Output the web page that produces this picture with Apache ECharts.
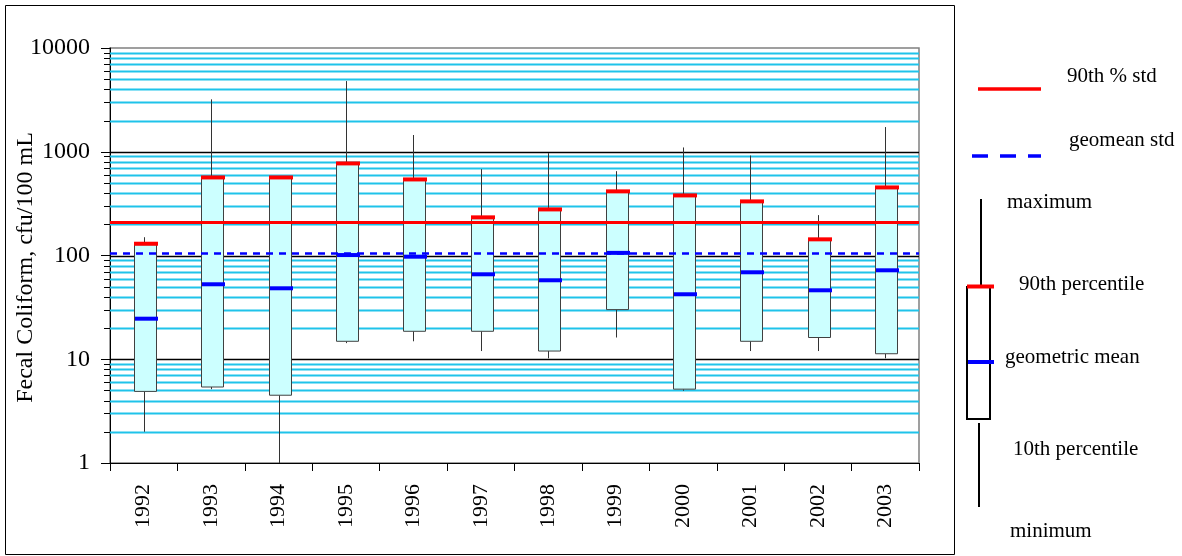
<!DOCTYPE html>
<html>
<head>
<meta charset="utf-8">
<title>Fecal Coliform 1992-2003</title>
<script src="https://cdn.jsdelivr.net/npm/echarts@6/dist/echarts.min.js"></script>
<style>
  html, body { margin: 0; padding: 0; background: #ffffff; }
  #chart { width: 1182px; height: 556px; }
</style>
</head>
<body>
<div id="chart"></div>
<script>
// Annual fecal coliform statistics (cfu/100 mL)
const years = ['1992', '1993', '1994', '1995', '1996', '1997', '1998', '1999', '2000', '2001', '2002', '2003'];
const maxVals = [150, 3200, 553, 4800, 1450, 680, 970, 650, 1100, 920, 245, 1730];
const p90Vals = [127, 553, 553, 755, 529, 228, 272, 406, 371, 325, 140, 443];
const gmeanVals = [24.6, 52.8, 48.3, 101, 97.4, 65.9, 57.7, 106, 42.3, 68.9, 46.2, 72];
const p10Vals = [4.9, 5.4, 4.5, 14.9, 18.6, 18.6, 12.0, 30.1, 5.15, 14.9, 16.2, 11.3];
const minVals = [2.0, 5.15, 1.0, 14.3, 14.9, 12.0, 10.2, 16.2, 4.97, 12.0, 12.0, 10.2];

// Water quality standards
const std90th = 208;
const stdGeomean = 104;

// Log axis decades and the 2..9 multiples between them
const decades = [1, 10, 100, 1000, 10000];
const minorSteps = [2, 3, 4, 5, 6, 7, 8, 9];

const FONT = '"Liberation Serif", "Times New Roman", serif';

const minorGrid = [];
decades.slice(0, -1).forEach(d => minorSteps.forEach(m => minorGrid.push(m * d)));

const boxData = years.map((y, i) => [y, maxVals[i], p90Vals[i], gmeanVals[i], p10Vals[i], minVals[i]]);

const chart = echarts.init(document.getElementById('chart'), null, { renderer: 'canvas' });

function renderGrid(params, api) {
  const cs = params.coordSys;
  const v = api.value(1);
  const y = Math.round(api.coord([0, v])[1]) + 0.5;
  const major = api.value(2) === 1;
  const children = [{
    type: 'line',
    shape: { x1: cs.x, y1: y, x2: cs.x + cs.width, y2: y },
    style: { stroke: major ? '#000000' : '#1fc3ea', lineWidth: major ? 1.6 : 2 }
  }];
  if (!major) {
    children.push({
      type: 'line',
      shape: { x1: cs.x - 6, y1: y, x2: cs.x, y2: y },
      style: { stroke: '#000000', lineWidth: 1 }
    });
  }
  return { type: 'group', children };
}

function renderBox(params, api) {
  const cat = api.value(0);
  const cx = Math.round(api.coord([cat, 1])[0]) + 0.5;
  const yMax = api.coord([cat, api.value(1)])[1];
  const y90 = api.coord([cat, api.value(2)])[1];
  const yGm = api.coord([cat, api.value(3)])[1];
  const y10 = api.coord([cat, api.value(4)])[1];
  const yMin = api.coord([cat, api.value(5)])[1];
  const bw = 22;
  const x0 = Math.round(cx - bw / 2);
  const children = [];
  if (yMax < y90 - 0.5) {
    children.push({ type: 'line', shape: { x1: cx, y1: yMax, x2: cx, y2: y90 },
      style: { stroke: '#333333', lineWidth: 1 } });
  }
  if (yMin > y10 + 0.5) {
    children.push({ type: 'line', shape: { x1: cx, y1: y10, x2: cx, y2: yMin },
      style: { stroke: '#333333', lineWidth: 1 } });
  }
  children.push({ type: 'rect', shape: { x: x0 + 0.5, y: y90, width: bw, height: y10 - y90 },
    style: { fill: '#ccffff', stroke: '#404040', lineWidth: 1 } });
  children.push({ type: 'rect', shape: { x: x0, y: y90 - 3, width: bw + 2, height: 4 },
    style: { fill: '#ff0000' } });
  children.push({ type: 'rect', shape: { x: x0 + 1, y: yGm - 2, width: bw + 1, height: 4 },
    style: { fill: '#0000ff' } });
  return { type: 'group', children };
}

const gridItems = [];
minorGrid.forEach(v => gridItems.push([years[0], v, 0]));
[10, 100, 1000].forEach(v => gridItems.push([years[0], v, 1]));

const txt = (x, y, s) => ({
  type: 'text', left: x, top: y - 11,
  style: { text: s, fill: '#000000', font: '21px ' + FONT }
});

const option = {
  animation: false,
  backgroundColor: '#ffffff',
  grid: {
    left: 110, right: 263, top: 48, bottom: 93,
    outerBoundsMode: 'none',
    containLabel: false,
    show: true, borderColor: '#808080', borderWidth: 1.5, backgroundColor: 'transparent'
  },
  xAxis: {
    type: 'category',
    data: years,
    boundaryGap: true,
    axisLine: { show: true, lineStyle: { color: '#000000', width: 1 } },
    axisTick: { show: true, length: 8, lineStyle: { color: '#000000' } },
    axisLabel: { rotate: 90, margin: 21, color: '#000000', fontFamily: FONT, fontSize: 22 },
    splitLine: { show: false }
  },
  yAxis: {
    type: 'log',
    logBase: 10,
    min: 1,
    max: 10000,
    splitNumber: 4,
    name: 'Fecal Coliform, cfu/100 mL',
    nameLocation: 'middle',
    nameRotate: 90,
    nameGap: 72,
    nameMoveOverlap: false,
    nameTextStyle: { color: '#000000', fontFamily: FONT, fontSize: 24, padding: [0, 24, 0, 0] },
    axisLine: { show: true, lineStyle: { color: '#000000', width: 1 } },
    axisTick: { show: true, length: 9, lineStyle: { color: '#000000' } },
    axisLabel: { margin: 20, color: '#000000', fontFamily: FONT, fontSize: 24,
      formatter: v => String(Math.round(v)) },
    splitLine: { show: false },
    minorTick: { show: false },
    minorSplitLine: { show: false }
  },
  series: [
    {
      name: 'grid',
      type: 'custom',
      z: 1,
      silent: true,
      clip: false,
      renderItem: renderGrid,
      data: gridItems
    },
    {
      name: 'annual',
      type: 'custom',
      z: 3,
      renderItem: renderBox,
      data: boxData,
      markLine: {
        silent: true,
        symbol: 'none',
        label: { show: false },
        z: 5,
        data: [
          { yAxis: std90th, lineStyle: { color: '#ff0000', width: 3, type: 'solid' } },
          { yAxis: stdGeomean, lineStyle: { color: '#0000ff', width: 2.5, type: [7, 6] } }
        ]
      }
    }
  ],
  graphic: [
    { type: 'rect', shape: { x: 5.5, y: 5.5, width: 949, height: 549 },
      style: { fill: 'none', stroke: '#000000', lineWidth: 1 }, z: 0 },
    { type: 'line', shape: { x1: 978, y1: 89, x2: 1041, y2: 89 },
      style: { stroke: '#ff0000', lineWidth: 3.5 } },
    txt(1067, 77, '90th % std'),
    { type: 'line', shape: { x1: 972, y1: 156, x2: 1041, y2: 156 },
      style: { stroke: '#0000ff', lineWidth: 3.5, lineDash: [16, 12] } },
    txt(1069, 141, 'geomean std'),
    { type: 'line', shape: { x1: 981, y1: 199, x2: 981, y2: 287 },
      style: { stroke: '#000000', lineWidth: 2 } },
    txt(1007, 203, 'maximum'),
    { type: 'rect', shape: { x: 967, y: 287, width: 23, height: 132 },
      style: { fill: '#ffffff', stroke: '#000000', lineWidth: 2 } },
    { type: 'rect', shape: { x: 967, y: 284.5, width: 27, height: 4 },
      style: { fill: '#ff0000' } },
    { type: 'rect', shape: { x: 968, y: 360, width: 26, height: 4 },
      style: { fill: '#0000ff' } },
    txt(1019, 285, '90th percentile'),
    txt(1005, 358, 'geometric mean'),
    { type: 'line', shape: { x1: 979, y1: 423, x2: 979, y2: 507 },
      style: { stroke: '#000000', lineWidth: 2 } },
    txt(1013, 450, '10th percentile'),
    txt(1010, 532, 'minimum')
  ]
};

chart.setOption(option);
</script>
</body>
</html>
